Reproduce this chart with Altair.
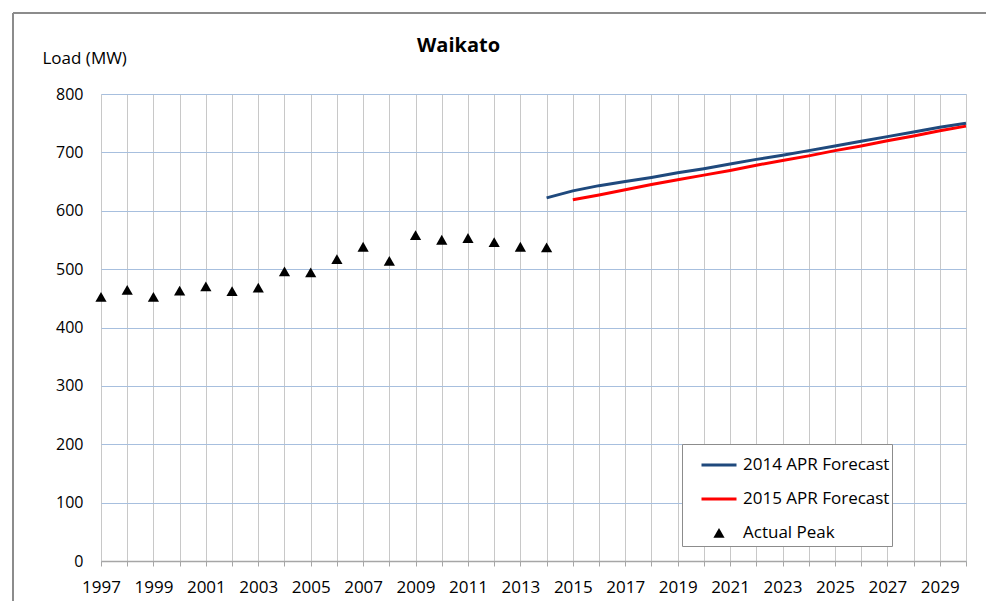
import altair as alt
import pandas as pd

# ---- data ----
peak_years = list(range(1997, 2015))
peak_values = [452, 464, 452, 463, 470, 462, 468, 496, 494, 517, 538, 514, 558, 550, 553, 546, 538, 537]

f2014_years = list(range(2014, 2031))
f2014_values = [622, 634, 643, 650, 657, 665, 672, 680, 688, 695, 703, 711, 719, 727, 735, 743, 750]

f2015_years = list(range(2015, 2031))
f2015_values = [619, 627, 636, 645, 653, 661, 669, 678, 686, 694, 703, 711, 720, 728, 737, 745]

series_names = ["2014 APR Forecast", "2015 APR Forecast", "Actual Peak"]
series_colors = ["#1F497D", "#FF0000", "#000000"]
# small triangle drawn inside the unit box so that legend rows keep one height
TRIANGLE = "M0,-0.29L0.32,0.27L-0.32,0.27Z"
series_shapes = ["stroke", "stroke", TRIANGLE]
stroke_colors = ["#1F497D", "#FF0000", "transparent"]

y_ticks = [0, 100, 200, 300, 400, 500, 600, 700, 800]
x_ticks = list(range(1997, 2031))

lines_df = pd.DataFrame(
    {"year": f2014_years, "load": f2014_values, "series": series_names[0]}
)
lines_df = pd.concat(
    [lines_df, pd.DataFrame({"year": f2015_years, "load": f2015_values, "series": series_names[1]})],
    ignore_index=True,
)
peak_df = pd.DataFrame({"year": peak_years, "load": peak_values, "series": series_names[2]})

FONT = "Open Sans"

x_enc = alt.X(
    "year:Q",
    scale=alt.Scale(domain=[1997, 2030], nice=False, zero=False),
    axis=alt.Axis(
        values=x_ticks,
        labelExpr="datum.value % 2 == 1 ? datum.value : ''",
        title=None,
        grid=True,
        gridColor="#c8c8c8",
        gridWidth=1,
        domainColor="#a6a6a6",
        domainWidth=1.5,
        tickColor="#a6a6a6",
        tickSize=5,
        labelFont=FONT,
        labelFontSize=17,
        labelColor="#000000",
        labelPadding=13,
        labelFlush=False,
        labelOverlap=False,
    ),
)
y_enc = alt.Y(
    "load:Q",
    scale=alt.Scale(domain=[0, 800], nice=False),
    axis=alt.Axis(
        values=y_ticks,
        title="Load (MW)",
        titleAngle=0,
        titleAlign="left",
        titleBaseline="middle",
        titleX=-59,
        titleY=-36,
        titleFont=FONT,
        titleFontSize=17,
        titleFontWeight="normal",
        titleColor="#000000",
        grid=True,
        gridColor="#a7bfde",
        gridWidth=1,
        domain=False,
        ticks=False,
        labelFont=FONT,
        labelFontSize=16,
        labelColor="#000000",
        labelPadding=18,
    ),
)

legend = alt.Legend(
    title=None,
    orient="none",
    legendX=581,
    legendY=350,
    fillColor="#ffffff",
    strokeColor="#8c8c8c",
    padding=2,
    rowPadding=7,
    symbolSize=1225,
    symbolStrokeWidth=3,
    symbolOffset=16,
    labelFont=FONT,
    labelFontSize=17,
    labelColor="#000000",
    labelOffset=5,
    labelLimit=300,
)

lines = alt.Chart(lines_df).mark_line(strokeWidth=3).encode(
    x=x_enc,
    y=y_enc,
    stroke=alt.Stroke(
        "series:N", scale=alt.Scale(domain=series_names, range=stroke_colors), legend=legend
    ),
)

points = alt.Chart(peak_df).mark_point(filled=True, opacity=1, size=1225, strokeWidth=0).encode(
    x=x_enc,
    y=y_enc,
    fill=alt.Fill("series:N", scale=alt.Scale(domain=series_names, range=series_colors), legend=legend),
    shape=alt.Shape("series:N", scale=alt.Scale(domain=series_names, range=series_shapes), legend=legend),
)

frame = alt.Chart(alt.Data(values=[{}])).mark_rule(color="#8c8c8c", strokeWidth=2).encode(
    x=alt.value(-88), x2=alt.value(-88), y=alt.value(-81), y2=alt.value(530)
)
frame_top = alt.Chart(alt.Data(values=[{}])).mark_rule(color="#8c8c8c", strokeWidth=2).encode(
    x=alt.value(-88), x2=alt.value(900), y=alt.value(-81), y2=alt.value(-81)
)

chart = (
    alt.layer(frame, frame_top, lines, points)
    .properties(
        width=865,
        height=467,
        padding={"left": 93, "top": 86, "right": 20, "bottom": 40},
        autosize=alt.AutoSizeParams(type="none"),
        title=alt.TitleParams(
            text="Waikato",
            anchor="start",
            dx=405,
            dy=44,
            offset=0,
            font=FONT,
            fontSize=20,
            fontWeight="bold",
            color="#000000",
        ),
    )
    .configure_view(stroke="#d9d9d9", strokeWidth=1)
    .configure(background="#ffffff")
)

chart.save("out.html", embed_options={"renderer": "svg", "actions": False})
